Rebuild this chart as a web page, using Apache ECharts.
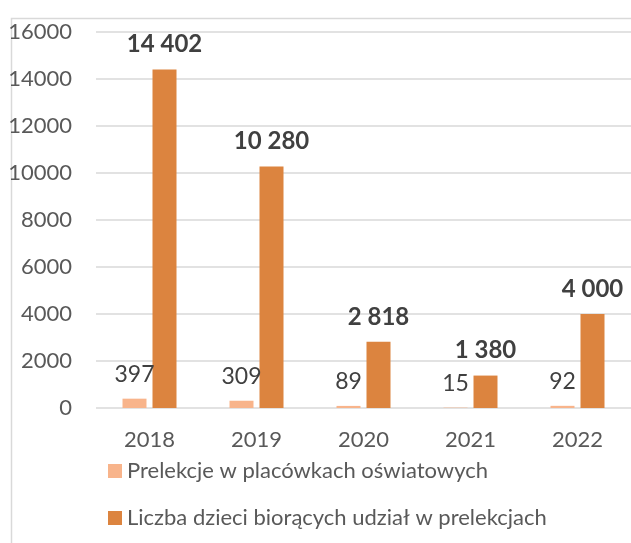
<!DOCTYPE html>
<html>
<head>
<meta charset="utf-8">
<script src="https://cdn.jsdelivr.net/npm/echarts@6/dist/echarts.min.js"></script>
<style>
  html, body { margin: 0; padding: 0; background: #fff; }
  #main { width: 631px; height: 543px; }
</style>
</head>
<body>
<div id="main"></div>
<script>
// dane z wykresu
var years = ["2018", "2019", "2020", "2021", "2022"];
var prelekcje = [397, 309, 89, 15, 92];
var dzieci = [14402, 10280, 2818, 1380, 4000];
var yTicks = [0, 2000, 4000, 6000, 8000, 10000, 12000, 14000, 16000];

var FONT = "Lato";

// 14402 -> "14 402"
function spaced(v) {
    return String(v).replace(/\B(?=(\d{3})+(?!\d))/g, " ");
}

var myChart = echarts.init(document.getElementById('main'));

var option = {
    animation: false,
    textStyle: { fontFamily: FONT },
    graphic: [{
        type: 'rect',
        left: 9, top: 16,
        shape: { width: 700, height: 600 },
        style: { fill: 'none', stroke: '#d9d9d9', lineWidth: 1.5 },
        silent: true
    }],
    grid: { left: 96, right: 0, top: 32, bottom: 135 },
    legend: {
        orient: 'vertical',
        left: 103,
        top: 455,
        itemWidth: 14,
        itemHeight: 14,
        itemGap: 25,
        icon: 'rect',
        textStyle: { fontFamily: FONT, fontSize: 22, color: '#595959' },
        data: ['Prelekcje w placówkach oświatowych', 'Liczba dzieci biorących udział w prelekcjach']
    },
    xAxis: {
        type: 'category',
        data: years,
        axisLine: { show: false },
        axisTick: { show: false },
        axisLabel: { fontFamily: FONT, fontSize: 22, color: '#595959', margin: 21 }
    },
    yAxis: {
        type: 'value',
        min: yTicks[0],
        max: yTicks[yTicks.length - 1],
        interval: yTicks[1] - yTicks[0],
        axisLine: { show: false },
        axisTick: { show: false },
        axisLabel: {
            fontFamily: FONT, fontSize: 22, color: '#595959', margin: 24,
            formatter: function (v) { return String(v); }
        },
        splitLine: { lineStyle: { color: '#d9d9d9', width: 1.5 } }
    },
    series: [
        {
            name: 'Prelekcje w placówkach oświatowych',
            type: 'bar',
            barWidth: 24,
            barGap: '25%',
            itemStyle: { color: '#f8b48b' },
            label: {
                show: true,
                position: 'top',
                distance: 13,
                fontFamily: FONT,
                fontSize: 23,
                color: '#404040'
            },
            data: prelekcje
        },
        {
            name: 'Liczba dzieci biorących udział w prelekcjach',
            type: 'bar',
            barWidth: 24,
            itemStyle: { color: '#dc843f' },
            label: {
                show: true,
                position: 'top',
                distance: 13,
                fontFamily: FONT,
                fontSize: 24,
                fontWeight: 'bold',
                color: '#404040',
                formatter: function (p) { return spaced(p.value); }
            },
            data: dzieci
        }
    ]
};

myChart.setOption(option);
window.onresize = myChart.resize;
</script>
</body>
</html>
